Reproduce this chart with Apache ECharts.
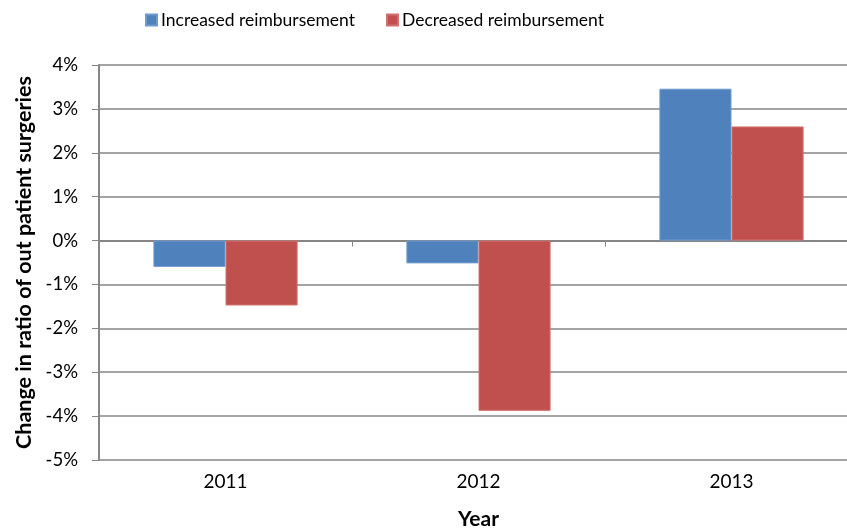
<!DOCTYPE html>
<html>
<head>
<meta charset="utf-8">
<script src="https://cdn.jsdelivr.net/npm/echarts@6/dist/echarts.min.js"></script>
<style>
	html, body { margin:0; padding:0; background:#fff; }
	#chart { width:847px; height:532px; }
</style>
</head>
<body>
<div id="chart"></div>
<script>
	var years = ['2011', '2012', '2013'];
	var increased = [-0.6, -0.52, 3.46];
	var decreased = [-1.48, -3.88, 2.6];
	var seriesNames = ['Increased reimbursement', 'Decreased reimbursement'];

	var font = 'Lato, "Open Sans", sans-serif';
	var gray = '#868686';

	var chart = echarts.init(document.getElementById('chart'), null, {renderer:'canvas'});
	chart.setOption({
		animation:false,
		textStyle:{fontFamily:font},
		legend:{
			top:6, left:140, itemWidth:11, itemHeight:11, itemGap:31,
			icon:'rect',
			textStyle:{fontSize:17.5, color:'#000', fontFamily:font, padding:[0,0,0,-1]},
			data:seriesNames
		},
		//plot area runs past the right edge, like the source
		grid:{left:99, top:65, width:759, height:395, outerBoundsMode:'none', containLabel:false},
		xAxis:[{
			//zero line with ticks between categories
			type:'category', data:years,
			axisLine:{onZero:true, lineStyle:{color:gray, width:2}},
			axisTick:{show:true, length:6, lineStyle:{color:gray}},
			axisLabel:{show:false}
		},{
			type:'category', data:years, position:'bottom',
			axisLine:{show:false, onZero:false}, axisTick:{show:false},
			axisLabel:{fontSize:19, color:'#000', margin:12, fontFamily:font},
			name:'Year', nameLocation:'middle', nameGap:49,
			nameTextStyle:{fontSize:21, fontWeight:'bold', color:'#000', fontFamily:font, verticalAlign:'top'}
		}],
		yAxis:{
			type:'value', min:-5, max:4, interval:1,
			axisLine:{show:true, lineStyle:{color:gray, width:2}},
			axisTick:{show:true, length:7, lineStyle:{color:gray}},
			splitLine:{lineStyle:{color:gray, width:1.5}},
			axisLabel:{fontSize:18.5, color:'#000', margin:21, formatter:'{value}%', fontFamily:font},
			name:'Change in ratio of out patient surgeries', nameLocation:'middle', nameGap:62,
			nameTextStyle:{fontSize:21.5, fontWeight:'bold', color:'#000', fontFamily:font}
		},
		series:[{
			name:seriesNames[0], type:'bar', data:increased,
			barGap:'0%', barCategoryGap:'43%',
			itemStyle:{color:'#4F81BD', borderColor:'#6F9AD0', borderWidth:1}
		},{
			name:seriesNames[1], type:'bar', data:decreased,
			barGap:'0%', barCategoryGap:'43%',
			itemStyle:{color:'#C0504D', borderColor:'#D27270', borderWidth:1}
		}]
	});
</script>
</body>
</html>
